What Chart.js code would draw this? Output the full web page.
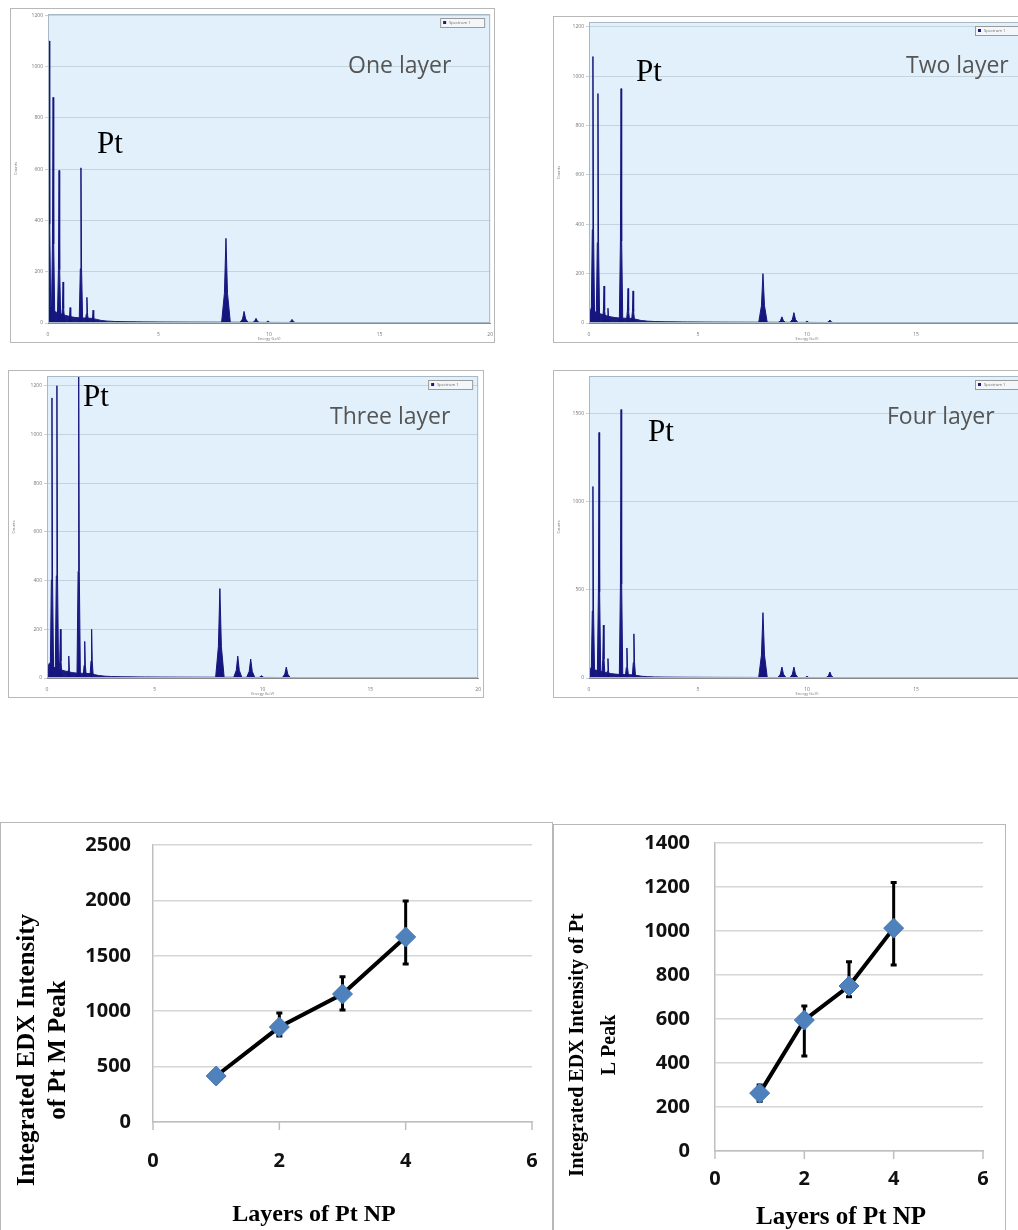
<!DOCTYPE html>
<html>
<head>
<meta charset="utf-8">
<script src="https://cdn.jsdelivr.net/npm/chart.js@4.4.1/dist/chart.umd.min.js"></script>
<style>
  html, body { margin: 0; padding: 0; background: #fff; overflow: hidden; width: 1018px; height: 1230px; }
  .frame { position: absolute; box-sizing: border-box; border: 1px solid #b8b8b8; background: #fff; }
  canvas { position: absolute; }
  .lbl { position: absolute; white-space: nowrap; line-height: 1; }
  .layer { font-family: "Open Sans", sans-serif; font-size: 23px; color: #555; }
  .pt { font-family: "Liberation Serif", serif; font-size: 31px; color: #000; }
</style>
</head>
<body>

<div class="frame" style="left:10px;top:8px;width:485px;height:335px;"></div>
<div class="frame" style="left:553px;top:16px;width:480px;height:327px;"></div>
<div class="frame" style="left:8px;top:370px;width:476px;height:328px;"></div>
<div class="frame" style="left:553px;top:370px;width:480px;height:328px;"></div>
<div class="frame" style="left:0px;top:822px;width:553px;height:420px;"></div>
<div class="frame" style="left:553px;top:824px;width:453px;height:420px;"></div>

<canvas id="spec1" width="483" height="333" style="left:11px;top:9px;"></canvas>
<canvas id="spec2" width="475" height="325" style="left:554px;top:17px;"></canvas>
<canvas id="spec3" width="473" height="326" style="left:9px;top:371px;"></canvas>
<canvas id="spec4" width="475" height="326" style="left:554px;top:371px;"></canvas>
<canvas id="mChart" width="550" height="407" style="left:1px;top:823px;"></canvas>
<canvas id="lChart" width="451" height="405" style="left:554px;top:825px;"></canvas>

<div class="lbl layer" style="left:348px;top:53px;">One layer</div>
<div class="lbl layer" style="left:906px;top:53px;">Two layer</div>
<div class="lbl layer" style="left:330px;top:404px;">Three layer</div>
<div class="lbl layer" style="left:887px;top:404px;">Four layer</div>
<div class="lbl pt" style="left:97px;top:127px;">Pt</div>
<div class="lbl pt" style="left:636px;top:55px;">Pt</div>
<div class="lbl pt" style="left:83px;top:380px;">Pt</div>
<div class="lbl pt" style="left:648px;top:415px;">Pt</div>

<script>
// ---------- EDX spectra (peak energy in keV, peak height in counts) ----------
const oneLayerKeV = [0.05, 0.23, 0.50, 0.68, 1.00, 1.49, 1.76, 2.04, 8.05, 8.87, 9.41, 9.95, 11.04];
const oneLayerCounts = [1100, 880, 595, 160, 60, 605, 100, 50, 330, 45, 18, 8, 14];
const twoLayerKeV = [0.18, 0.41, 0.69, 0.87, 1.47, 1.79, 2.02, 7.98, 8.85, 9.40, 10.00, 11.05];
const twoLayerCounts = [1080, 930, 150, 60, 950, 140, 130, 200, 25, 42, 8, 12];
const threeLayerKeV = [0.23, 0.46, 0.62, 1.01, 1.47, 1.75, 2.07, 8.02, 8.85, 9.45, 9.95, 11.10];
const threeLayerCounts = [1150, 1200, 200, 90, 1250, 150, 200, 367, 90, 78, 10, 45];
const fourLayerKeV = [0.18, 0.46, 0.66, 0.87, 1.47, 1.74, 2.06, 7.98, 8.85, 9.40, 10.00, 11.05];
const fourLayerCounts = [1084, 1390, 300, 110, 1520, 170, 250, 370, 62, 62, 10, 34];
// low continuum under the peaks
const bgKeV = [0, 0.1, 0.3, 0.6, 1.0, 1.4, 2.0, 2.4, 3.0, 5.0, 8.0, 11.0, 13.0, 20];
const bgCounts = [0, 60, 45, 35, 25, 20, 18, 10, 6, 4, 3, 2, 1.5, 1];

// ---------- Integrated intensity vs layers ----------
const layers = [1, 2, 3, 4];
const mPeak = [415, 857, 1155, 1670];
const mPeakErrUp = [40, 127, 156, 325];
const mPeakErrDown = [40, 80, 144, 244];
const lPeak = [263, 595, 750, 1013];
const lPeakErrUp = [37, 64, 110, 207];
const lPeakErrDown = [37, 163, 49, 168];

Chart.defaults.animation = false;
Chart.defaults.font.family = "Open Sans";

/* --------------- spectrum helpers --------------------- */
function peakPoints(keV, counts) {
  const pts = [{ x: 0, y: 0 }];
  keV.forEach((e, i) => {
    const h = counts[i];
    const w = e < 3 ? 0.08 : 0.2;
    pts.push({ x: e - w, y: 0 }, { x: e - w * 0.35, y: h * 0.35 }, { x: e, y: h },
             { x: e + w * 0.35, y: h * 0.35 }, { x: e + w, y: 0 });
  });
  pts.push({ x: 20, y: 0 });
  return pts;
}

const specDecor = {
  id: "specDecor",
  beforeDraw(chart) {
    const { ctx, chartArea: a } = chart;
    ctx.save();
    ctx.fillStyle = "#e1f0fa";
    ctx.fillRect(a.left, a.top, a.width, a.height);
    ctx.restore();
  },
  afterDraw(chart) {
    const { ctx, chartArea: a } = chart;
    ctx.save();
    ctx.strokeStyle = "#a8b8c4";
    ctx.lineWidth = 1;
    ctx.strokeRect(a.left + 0.5, a.top + 0.5, a.width - 1, a.height - 1);
    // little legend box
    const bx = a.right - 50, by = a.top + 4;
    ctx.fillStyle = "#f4f7f9";
    ctx.fillRect(bx, by, 44, 9);
    ctx.strokeStyle = "#9a9a9a";
    ctx.strokeRect(bx + 0.5, by + 0.5, 44, 9);
    ctx.fillStyle = "#1a1a80";
    ctx.fillRect(bx + 3, by + 3, 3, 3);
    ctx.fillStyle = "#666";
    ctx.font = "4px Open Sans";
    ctx.textBaseline = "middle";
    ctx.fillText("Spectrum 1", bx + 9, by + 5);
    ctx.restore();
  }
};

function peakFill(context) {
  const { ctx, chartArea } = context.chart;
  if (!chartArea) return "#1a1a8a";
  const g = ctx.createLinearGradient(0, chartArea.bottom, 0, chartArea.top);
  g.addColorStop(0, "#14147f");
  g.addColorStop(0.3, "#23238f");
  g.addColorStop(0.65, "#7b62ad");
  g.addColorStop(1, "#cdb0d6");
  return g;
}

function fixedTicks(max, step) {
  return (scale) => {
    const t = [];
    for (let v = 0; v <= max; v += step) t.push({ value: v });
    scale.ticks = t;
  };
}

function spectrum(id, keV, counts, yMax, yStep, yW, xH, padTop, padRight) {
  return new Chart(document.getElementById(id), {
    type: "line",
    plugins: [specDecor],
    data: {
      datasets: [
        {
          data: peakPoints(keV, counts),
          borderColor: "#16167e",
          borderWidth: 1,
          backgroundColor: peakFill,
          fill: "origin",
          pointRadius: 0,
          tension: 0,
        },
        {
          data: bgKeV.map((e, i) => ({ x: e, y: bgCounts[i] })),
          borderColor: "#1a1a80",
          borderWidth: 1,
          backgroundColor: "#1a1a80",
          fill: "origin",
          pointRadius: 0,
          tension: 0.3,
        },
      ],
    },
    options: {
      responsive: false,
      layout: { padding: { top: padTop, right: padRight, left: 0, bottom: 0 } },
      plugins: { legend: { display: false }, tooltip: { enabled: false } },
      scales: {
        x: {
          type: "linear",
          min: 0,
          max: 20,
          afterBuildTicks: fixedTicks(20, 5),
          afterFit: (s) => { s.height = xH; },
          grid: { display: false },
          border: { color: "#8a8a8a" },
          ticks: { font: { size: 5 }, color: "#777", padding: 1 },
          title: { display: true, text: "Energy (keV)", font: { size: 4 }, color: "#777", padding: 1 },
        },
        y: {
          min: 0,
          max: yMax,
          afterBuildTicks: fixedTicks(yMax, yStep),
          afterFit: (s) => { s.width = yW; },
          grid: { color: "#c4d4df", tickLength: 3 },
          border: { color: "#8a8a8a" },
          ticks: { font: { size: 5 }, color: "#777", padding: 2, callback: (v) => String(v) },
          title: { display: true, text: "Counts", font: { size: 4 }, color: "#777", padding: 2 },
        },
      },
    },
  });
}

spectrum("spec1", oneLayerKeV, oneLayerCounts, 1205, 200, 37, 19, 3, 3);
spectrum("spec2", twoLayerKeV, twoLayerCounts, 1220, 200, 35, 19, 2, 4);
spectrum("spec3", threeLayerKeV, threeLayerCounts, 1240, 200, 38, 19, 2, 2);
spectrum("spec4", fourLayerKeV, fourLayerCounts, 1710, 500, 35, 19, 1, 4);

/* --------------- intensity charts --------------------- */
const errorBars = {
  id: "errorBars",
  beforeDatasetsDraw(chart) {
    const { ctx, scales } = chart;
    const ds = chart.data.datasets[0];
    ctx.save();
    ctx.strokeStyle = "#000";
    ctx.lineWidth = 3;
    ds.data.forEach((p, i) => {
      const x = scales.x.getPixelForValue(p.x);
      const yTop = scales.y.getPixelForValue(p.y + ds.errUp[i]);
      const yBot = scales.y.getPixelForValue(p.y - ds.errDown[i]);
      ctx.beginPath();
      ctx.moveTo(x, yTop); ctx.lineTo(x, yBot);
      ctx.moveTo(x - 3, yTop); ctx.lineTo(x + 3, yTop);
      ctx.moveTo(x - 3, yBot); ctx.lineTo(x + 3, yBot);
      ctx.stroke();
    });
    // short tick marks under the x axis
    const sx = scales.x;
    ctx.strokeStyle = "#bfbfbf";
    ctx.lineWidth = 1.5;
    sx.ticks.forEach((t) => {
      const x = sx.getPixelForValue(t.value);
      ctx.beginPath();
      ctx.moveTo(x, sx.top);
      ctx.lineTo(x, sx.top + 8);
      ctx.stroke();
    });
    ctx.restore();
  },
};

function axisText(items) {
  return {
    id: "axisText",
    afterDraw(chart) {
      const c = chart.ctx;
      items.forEach((t) => {
        c.save();
        c.translate(t.x, t.y);
        c.rotate(t.rot || 0);
        c.font = t.font;
        c.fillStyle = "#000";
        c.textAlign = "center";
        c.textBaseline = "middle";
        t.lines.forEach((ln, i) => c.fillText(ln, 0, (i - (t.lines.length - 1) / 2) * t.lh));
        c.restore();
      });
    },
  };
}

function intensityChart(id, values, errUp, errDown, yMax, yStep, dims, texts) {
  return new Chart(document.getElementById(id), {
    type: "line",
    plugins: [errorBars, axisText(texts)],
    data: {
      datasets: [
        {
          data: layers.map((l, i) => ({ x: l, y: values[i] })),
          errUp: errUp,
          errDown: errDown,
          borderColor: "#000",
          borderWidth: 4,
          tension: 0,
          pointStyle: "rectRot",
          pointRadius: 10,
          pointBackgroundColor: "#4f81bd",
          pointBorderColor: "#4577b2",
          pointBorderWidth: 1,
        },
      ],
    },
    options: {
      responsive: false,
      layout: { padding: { top: dims.top, right: dims.right, left: 0, bottom: 0 } },
      plugins: { legend: { display: false }, tooltip: { enabled: false } },
      scales: {
        x: {
          type: "linear",
          min: 0,
          max: 6,
          afterFit: (s) => { s.height = dims.xH; },
          grid: { drawOnChartArea: false, drawTicks: true, tickLength: dims.xGap, tickColor: "rgba(0,0,0,0)" },
          border: { color: "#bfbfbf", width: 1.5 },
          ticks: { stepSize: 2, font: { size: 20, weight: "bold" }, color: "#111", padding: 0,
                   callback: (v) => String(v) },
        },
        y: {
          min: 0,
          max: yMax,
          afterFit: (s) => { s.width = dims.yW; },
          grid: { drawTicks: true, tickLength: dims.yGap, tickColor: "rgba(0,0,0,0)", color: "#d6d6d6", lineWidth: 1.5 },
          border: { color: "#bfbfbf", width: 1.5 },
          ticks: { stepSize: yStep, font: { size: 20, weight: "bold" }, color: "#111", padding: 0,
                   callback: (v) => String(v) },
        },
      },
    },
  });
}

intensityChart("mChart", mPeak, mPeakErrUp, mPeakErrDown, 2500, 500,
  { top: 22, right: 19, xH: 108, yW: 152, xGap: 27, yGap: 22 },
  [
    { lines: ["Integrated EDX Intensity", "of Pt M Peak"], x: 42, y: 227, rot: -Math.PI / 2, lh: 31, font: "bold 25px Liberation Serif" },
    { lines: ["Layers of Pt NP"], x: 313, y: 392, lh: 0, font: "bold 24px Liberation Serif" },
  ]);

intensityChart("lChart", lPeak, lPeakErrUp, lPeakErrDown, 1400, 200,
  { top: 18, right: 22, xH: 79, yW: 161, xGap: 16, yGap: 25 },
  [
    { lines: ["Integrated EDX Intensity of Pt", "L Peak"], x: 40, y: 220, rot: -Math.PI / 2, lh: 32, font: "bold 20px Liberation Serif" },
    { lines: ["Layers of Pt NP"], x: 287, y: 393, lh: 0, font: "bold 25px Liberation Serif" },
  ]);
</script>
</body>
</html>
